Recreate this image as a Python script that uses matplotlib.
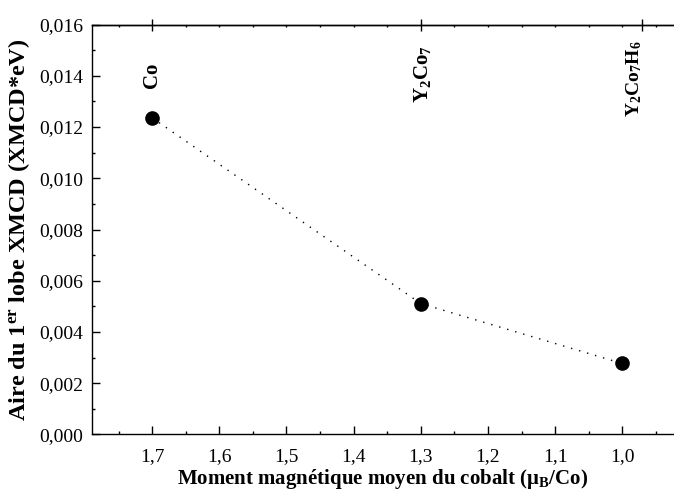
import matplotlib
matplotlib.use("Agg")
import matplotlib.pyplot as plt
from matplotlib.ticker import FuncFormatter, MultipleLocator, FixedLocator

# data
moment = [1.7, 1.3, 1.0]            # mu_B / Co
aire = [0.01236, 0.00511, 0.00277]  # XMCD*eV
compounds = [r"Co", r"Y$_2$Co$_7$", r"Y$_2$Co$_7$H$_6$"]
compound_ticks = [1.7, 1.3, 0.97]

plt.rcParams["font.family"] = ["Liberation Serif", "DejaVu Serif"]
plt.rcParams["mathtext.fontset"] = "custom"
plt.rcParams["mathtext.rm"] = "Liberation Serif:bold"
plt.rcParams["mathtext.bf"] = "Liberation Serif:bold"
plt.rcParams["mathtext.it"] = "Liberation Serif:bold"
plt.rcParams["mathtext.default"] = "bf"

fig = plt.figure(figsize=(6.74, 4.92), dpi=100)
ax = fig.add_axes([0.136, 0.117, 0.864, 0.833])

ax.plot(moment, aire, color="black", lw=1.0, ls=(0, (1, 5)))
ax.plot(moment, aire, "o", color="black", ms=9.5, ls="none")

ax.set_xlim(1.79, 0.923)
ax.set_ylim(0, 0.016)

ax.xaxis.set_major_locator(MultipleLocator(0.1))
ax.xaxis.set_minor_locator(MultipleLocator(0.05))
ax.yaxis.set_major_locator(MultipleLocator(0.002))
ax.yaxis.set_minor_locator(MultipleLocator(0.001))
ax.xaxis.set_major_formatter(FuncFormatter(lambda v, p: f"{v:.1f}".replace(".", ",")))
ax.yaxis.set_major_formatter(FuncFormatter(lambda v, p: f"{v:.3f}".replace(".", ",")))

ax.tick_params(which="both", direction="in", top=False, right=False, labelsize=14, width=1)
ax.tick_params(which="major", length=6, pad=6)
ax.tick_params(which="minor", length=2.5)
ax.tick_params(axis="x", which="major", pad=10)
ax.spines["right"].set_visible(False)
for s in ["left", "bottom", "top"]:
    ax.spines[s].set_linewidth(1.0)

# top axis with compound marks
top = ax.secondary_xaxis("top")
top.xaxis.set_major_locator(FixedLocator(compound_ticks))
top.xaxis.set_minor_locator(MultipleLocator(0.05))
top.tick_params(which="major", direction="inout", length=9, width=1, labeltop=False)
top.tick_params(which="minor", direction="in", length=1.5, width=1)
top.spines["top"].set_linewidth(1.0)

label_x = [1.7, 1.297, 0.983]
label_top = [0.0145, 0.01518, 0.01537]
label_size = [15, 15, 14]
for x, y, t, fs in zip(label_x, label_top, compounds, label_size):
    ax.text(x, y, t, rotation=90, ha="center", va="top", fontsize=fs, fontweight="bold")

ax.set_xlabel(r"Moment magnétique moyen du cobalt ($\mathbf{\mu}_B$/Co)",
              fontsize=15, fontweight="bold", labelpad=1)
ax.set_ylabel(r"Aire du 1$^{er}$ lobe XMCD (XMCD*eV)",
              fontsize=17.5, fontweight="bold", labelpad=5)

fig.savefig("out.png", dpi=100)
